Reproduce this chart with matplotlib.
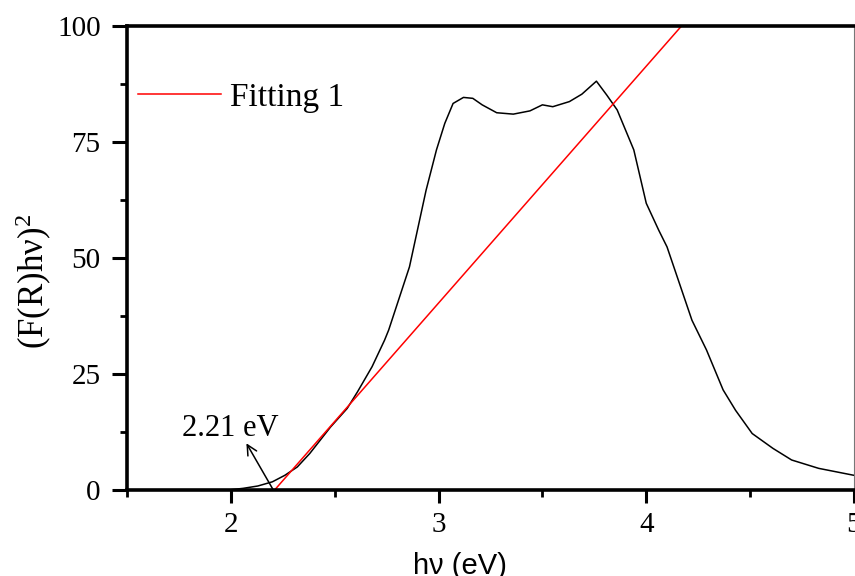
#### Kubelka-Munk plot with linear fit ####

import numpy as np
import matplotlib
matplotlib.use('Agg')
import matplotlib.pyplot as plt
from matplotlib.ticker import MultipleLocator

# Global Setting

plt.rcParams['font.family']      = 'serif'
plt.rcParams['font.serif']       = ['Liberation Serif', 'DejaVu Serif']
plt.rcParams['mathtext.fontset'] = 'custom'
plt.rcParams['mathtext.rm']      = 'Liberation Serif'
plt.rcParams['mathtext.it']      = 'Liberation Serif:italic'

## Data

energy = [2.00, 2.06, 2.13, 2.20, 2.26, 2.32, 2.38, 2.48, 2.56, 2.61,
          2.68, 2.74, 2.76, 2.86, 2.94, 2.99, 3.03, 3.07, 3.12, 3.165,
          3.21, 3.28, 3.36, 3.44, 3.50, 3.55, 3.63, 3.69, 3.76, 3.81,
          3.86, 3.94, 4.00, 4.06, 4.10, 4.16, 4.22, 4.29, 4.37, 4.43,
          4.51, 4.61, 4.70, 4.83, 5.00]
fhv2   = [0.1, 0.4, 0.9, 1.8, 3.2, 5.0, 7.9, 13.6, 17.6, 21.2,
          26.6, 32.3, 34.5, 48.1, 64.6, 73.3, 79.0, 83.3, 84.6, 84.4,
          83.0, 81.3, 81.0, 81.7, 83.0, 82.6, 83.7, 85.3, 88.1, 85.1,
          81.9, 73.3, 61.8, 56.0, 52.4, 44.5, 36.6, 30.2, 21.6, 17.2,
          12.2, 9.0, 6.5, 4.7, 3.2]

fit_x = [2.21, 4.17]
fit_y = [0.0, 100.0]
fit_label = 'Fitting 1'

gap_value = 2.21
gap_label = '2.21 eV'

xticks = [2, 3, 4, 5]
yticks = [0, 25, 50, 75, 100]

## Plot Statement

fig = plt.figure(figsize=(8.55, 5.76), dpi=100)
ax = fig.add_axes([0.1485, 0.149, 0.8503, 0.806])

ax.plot(energy, fhv2, color='black', lw=1.1)
ax.plot(fit_x, fit_y, color='red', lw=1.1, label=fit_label)

# band gap arrow and label
ax.annotate('', xy=(2.075, 10.1), xytext=(gap_value - 0.005, 0.0),
            arrowprops=dict(arrowstyle='->', color='black', lw=1.1,
                            shrinkA=0, shrinkB=0, mutation_scale=18))
ax.text(1.764, 11.6, gap_label, fontsize=22, va='baseline', ha='left')

ax.set_xlim(1.5, 5)
ax.set_ylim(0, 100)
ax.set_xticks(xticks)
ax.set_yticks(yticks)
ax.xaxis.set_minor_locator(MultipleLocator(0.5))
ax.yaxis.set_minor_locator(MultipleLocator(12.5))

ax.tick_params(axis='x', which='major', direction='out', length=9.5, width=2.2,
               labelsize=21, pad=6)
ax.tick_params(axis='y', which='major', direction='out', length=11, width=2.2,
               labelsize=21, pad=8)
ax.tick_params(which='minor', direction='out', length=5, width=2.0)

for side in ['left', 'bottom', 'top']:
    ax.spines[side].set_linewidth(2.6)
ax.spines['right'].set_linewidth(0.8)
ax.spines['right'].set_color('#777777')

ax.set_xlabel('hν (eV)', fontsize=21, family='Liberation Sans')
ax.xaxis.set_label_coords(0.458, -0.134)
ax.set_ylabel('(F(R)hν)$^2$', fontsize=25)
ax.yaxis.set_label_coords(-0.100, 0.45)

ax.legend(loc='center left', bbox_to_anchor=(0.015, 0.845), frameon=False,
          fontsize=24, handlelength=2.5, handletextpad=0.27,
          borderpad=0, borderaxespad=0)

## Output

fig.savefig('out.png', dpi=100)
